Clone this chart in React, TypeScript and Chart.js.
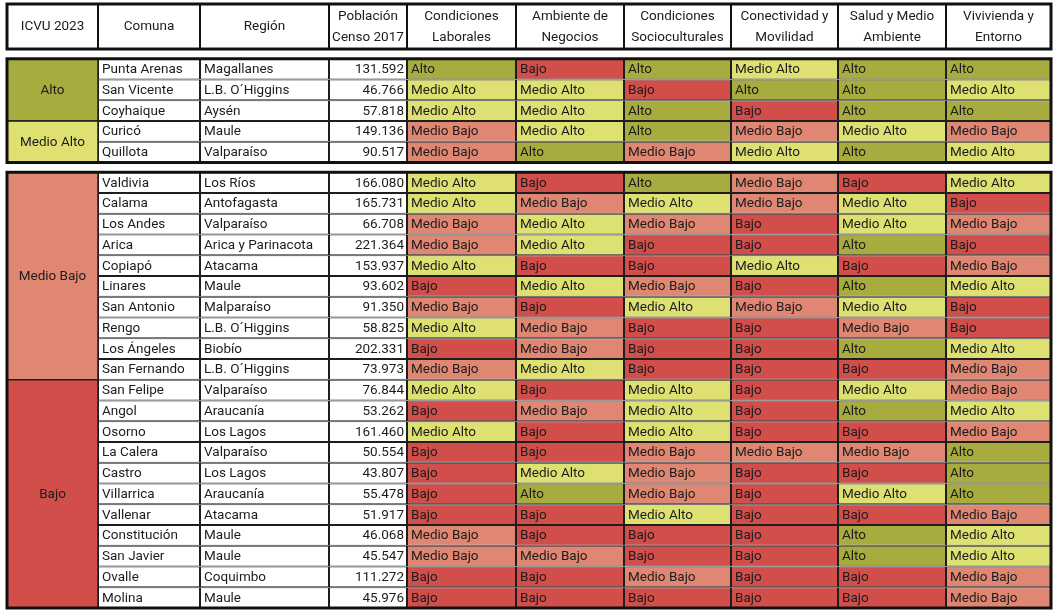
import React, { useEffect, useRef } from "react";
import { Chart, registerables } from "chart.js";

Chart.register(...registerables);

// ---------- data ----------
const headers: string[][] = [
  ["ICVU 2023"],
  ["Comuna"],
  ["Región"],
  ["Población", "Censo 2017"],
  ["Condiciones", "Laborales"],
  ["Ambiente de", "Negocios"],
  ["Condiciones", "Socioculturales"],
  ["Conectividad y", "Movilidad"],
  ["Salud y Medio", "Ambiente"],
  ["Vivivienda y", "Entorno"],
];

const icvuLevels = ["Alto", "Medio Alto", "Medio Bajo", "Bajo"];
const icvuCounts = [3, 2, 10, 11];
const blockBreaks = [5]; // a new framed block starts at this row

const comunas = [
  "Punta Arenas", "San Vicente", "Coyhaique", "Curicó", "Quillota",
  "Valdivia", "Calama", "Los Andes", "Arica", "Copiapó", "Linares", "San Antonio",
  "Rengo", "Los Ángeles", "San Fernando",
  "San Felipe", "Angol", "Osorno", "La Calera", "Castro", "Villarrica", "Vallenar",
  "Constitución", "San Javier", "Ovalle", "Molina",
];

const regiones = [
  "Magallanes", "L.B. O´Higgins", "Aysén", "Maule", "Valparaíso",
  "Los Ríos", "Antofagasta", "Valparaíso", "Arica y Parinacota", "Atacama", "Maule",
  "Malparaíso", "L.B. O´Higgins", "Biobío", "L.B. O´Higgins",
  "Valparaíso", "Araucanía", "Los Lagos", "Valparaíso", "Los Lagos", "Araucanía",
  "Atacama", "Maule", "Maule", "Coquimbo", "Maule",
];

const poblacion = [
  131592, 46766, 57818, 149136, 90517,
  166080, 165731, 66708, 221364, 153937, 93602, 91350, 58825, 202331, 73973,
  76844, 53262, 161460, 50554, 43807, 55478, 51917, 46068, 45547, 111272, 45976,
];

const condicionesLaborales = [
  "Alto", "Medio Alto", "Medio Alto", "Medio Bajo", "Medio Bajo",
  "Medio Alto", "Medio Alto", "Medio Bajo", "Medio Bajo", "Medio Alto", "Bajo",
  "Medio Bajo", "Medio Alto", "Bajo", "Medio Bajo",
  "Medio Alto", "Bajo", "Medio Alto", "Bajo", "Bajo", "Bajo", "Bajo",
  "Medio Bajo", "Medio Bajo", "Bajo", "Bajo",
];

const ambienteNegocios = [
  "Bajo", "Medio Alto", "Medio Alto", "Medio Alto", "Alto",
  "Bajo", "Medio Bajo", "Medio Alto", "Medio Alto", "Bajo", "Medio Alto",
  "Bajo", "Medio Bajo", "Medio Bajo", "Medio Alto",
  "Bajo", "Medio Bajo", "Bajo", "Bajo", "Medio Alto", "Alto", "Bajo",
  "Bajo", "Medio Bajo", "Bajo", "Bajo",
];

const condicionesSocioculturales = [
  "Alto", "Bajo", "Alto", "Alto", "Medio Bajo",
  "Alto", "Medio Alto", "Medio Bajo", "Bajo", "Bajo", "Medio Bajo",
  "Medio Alto", "Bajo", "Bajo", "Bajo",
  "Medio Alto", "Medio Alto", "Medio Alto", "Medio Bajo", "Medio Bajo", "Medio Bajo",
  "Medio Alto", "Bajo", "Bajo", "Medio Bajo", "Bajo",
];

const conectividadMovilidad = [
  "Medio Alto", "Alto", "Bajo", "Medio Bajo", "Medio Alto",
  "Medio Bajo", "Medio Bajo", "Bajo", "Bajo", "Medio Alto", "Bajo",
  "Medio Bajo", "Bajo", "Bajo", "Bajo",
  "Bajo", "Bajo", "Bajo", "Medio Bajo", "Bajo", "Bajo", "Bajo",
  "Bajo", "Bajo", "Bajo", "Bajo",
];

const saludMedioAmbiente = [
  "Alto", "Alto", "Alto", "Medio Alto", "Alto",
  "Bajo", "Medio Alto", "Medio Alto", "Alto", "Bajo", "Alto",
  "Medio Alto", "Medio Bajo", "Alto", "Bajo",
  "Medio Alto", "Alto", "Bajo", "Medio Bajo", "Bajo", "Medio Alto", "Bajo",
  "Alto", "Alto", "Bajo", "Bajo",
];

const viviendaEntorno = [
  "Alto", "Medio Alto", "Alto", "Medio Bajo", "Medio Alto",
  "Medio Alto", "Bajo", "Medio Bajo", "Bajo", "Medio Bajo", "Medio Alto",
  "Bajo", "Bajo", "Medio Alto", "Medio Bajo",
  "Medio Bajo", "Medio Alto", "Medio Bajo", "Alto", "Alto", "Alto", "Medio Bajo",
  "Medio Alto", "Medio Alto", "Medio Bajo", "Medio Bajo",
];

// ---------- styling / layout ----------
const LEVEL_COLORS: Record<string, string> = {
  Alto: "#a8ac3e",
  "Medio Alto": "#dfe072",
  "Medio Bajo": "#e08773",
  Bajo: "#d24e4b",
};
const COL_WIDTHS = [91, 102, 129, 78, 109, 108, 107, 107, 108, 105];
const HEADER_UNITS = 2.17;
const GAP_UNITS = 0.47;
const FONT = "Roboto, 'Noto Sans', sans-serif";
const TEXT_COLOR = "#1c1c1c";
const LINE_COLOR = "#1e1e1e";

const colEdges: number[] = [0];
COL_WIDTHS.forEach((w) => colEdges.push(colEdges[colEdges.length - 1] + w));
const TOTAL_W = colEdges[colEdges.length - 1];
const N_ROWS = comunas.length;
const TOTAL_H = HEADER_UNITS + GAP_UNITS * (1 + blockBreaks.length) + N_ROWS;

function rowTop(i: number): number {
  const breaks = blockBreaks.filter((b) => i >= b).length;
  return HEADER_UNITS + GAP_UNITS * (1 + breaks) + i;
}

function fmt(n: number): string {
  return String(n).replace(/\B(?=(\d{3})+(?!\d))/g, ".");
}

type Col = { values: string[]; colored: boolean; align: "left" | "right" };
const columns: Col[] = [
  { values: comunas, colored: false, align: "left" },
  { values: regiones, colored: false, align: "left" },
  { values: poblacion.map(fmt), colored: false, align: "right" },
  { values: condicionesLaborales, colored: true, align: "left" },
  { values: ambienteNegocios, colored: true, align: "left" },
  { values: condicionesSocioculturales, colored: true, align: "left" },
  { values: conectividadMovilidad, colored: true, align: "left" },
  { values: saludMedioAmbiente, colored: true, align: "left" },
  { values: viviendaEntorno, colored: true, align: "left" },
];

const tablePlugin = {
  id: "tableText",
  afterDatasetsDraw(chart: any) {
    const ctx: CanvasRenderingContext2D = chart.ctx;
    const xs = chart.scales.x;
    const ys = chart.scales.y;
    const px = (v: number) => xs.getPixelForValue(v);
    const py = (v: number) => ys.getPixelForValue(v);
    ctx.save();

    // cell texts
    ctx.font = `13.5px ${FONT}`;
    ctx.fillStyle = TEXT_COLOR;
    ctx.textBaseline = "middle";
    chart.data.datasets.forEach((ds: any, di: number) => {
      const meta = chart.getDatasetMeta(di);
      const col = columns[di];
      meta.data.forEach((el: any, i: number) => {
        const { x, base, y } = el.getProps(["x", "base", "y"], true);
        const left = Math.min(x, base);
        const right = Math.max(x, base);
        if (col.align === "right") {
          ctx.textAlign = "right";
          ctx.fillText(col.values[i], right - 3, y + 0.5);
        } else {
          ctx.textAlign = "left";
          ctx.fillText(col.values[i], left + 4, y + 0.5);
        }
      });
    });

    // ICVU spans
    let start = 0;
    icvuLevels.forEach((lvl, k) => {
      const cnt = icvuCounts[k];
      const y0 = py(rowTop(start));
      const y1 = py(rowTop(start) + cnt);
      const x0 = px(colEdges[0]);
      const x1 = px(colEdges[1]);
      ctx.fillStyle = LEVEL_COLORS[lvl];
      ctx.fillRect(x0, y0, x1 - x0, y1 - y0);
      ctx.strokeStyle = LINE_COLOR;
      ctx.lineWidth = 1.5;
      ctx.strokeRect(x0, y0, x1 - x0, y1 - y0);
      ctx.fillStyle = TEXT_COLOR;
      ctx.textAlign = "center";
      ctx.font = `13.5px ${FONT}`;
      ctx.fillText(lvl, (x0 + x1) / 2, (y0 + y1) / 2 + 0.5);
      start += cnt;
    });

    // header
    const hy0 = py(0);
    const hy1 = py(HEADER_UNITS);
    ctx.fillStyle = "#ffffff";
    ctx.fillRect(px(0), hy0, px(TOTAL_W) - px(0), hy1 - hy0);
    ctx.font = `13.5px ${FONT}`;
    ctx.fillStyle = TEXT_COLOR;
    ctx.textAlign = "center";
    headers.forEach((lines, c) => {
      const cx = (px(colEdges[c]) + px(colEdges[c + 1])) / 2;
      const cy = (hy0 + hy1) / 2;
      if (lines.length === 1) {
        ctx.fillText(lines[0], cx, cy + 0.5);
      } else {
        ctx.fillText(lines[0], cx, cy - 10);
        ctx.fillText(lines[1], cx, cy + 11);
      }
    });
    ctx.strokeStyle = "#111";
    ctx.lineWidth = 2;
    for (let c = 1; c < colEdges.length - 1; c++) {
      const x = px(colEdges[c]);
      ctx.beginPath();
      ctx.moveTo(x, hy0);
      ctx.lineTo(x, hy1);
      ctx.stroke();
    }
    ctx.lineWidth = 3;
    ctx.strokeRect(px(0), hy0, px(TOTAL_W) - px(0), hy1 - hy0);

    // block frames
    const blocks = [0, ...blockBreaks, N_ROWS];
    for (let b = 0; b < blocks.length - 1; b++) {
      const y0 = py(rowTop(blocks[b]));
      const y1 = py(rowTop(blocks[b + 1] - 1) + 1);
      ctx.strokeRect(px(0), y0, px(TOTAL_W) - px(0), y1 - y0);
    }
    ctx.restore();
  },
};

export default function App() {
  const canvasRef = useRef<HTMLCanvasElement | null>(null);

  useEffect(() => {
    const canvas = canvasRef.current;
    if (!canvas) return;
    const datasets = columns.map((col, c) => ({
      label: headers[c + 1].join(" "),
      data: col.values.map((_, i) => ({
        x: [colEdges[c + 1], colEdges[c + 2]],
        y: rowTop(i) + 0.5,
      })),
      backgroundColor: col.values.map((v) =>
        col.colored ? LEVEL_COLORS[v] : "#ffffff"
      ),
      borderColor: LINE_COLOR,
      borderWidth: 1,
      borderSkipped: false,
      inflateAmount: 0,
      grouped: false,
      barPercentage: 1,
      categoryPercentage: 1,
    }));

    const chart = new Chart(canvas, {
      type: "bar",
      data: { datasets: datasets as any },
      options: {
        animation: false,
        responsive: false,
        maintainAspectRatio: false,
        devicePixelRatio: 1,
        indexAxis: "y",
        events: [],
        layout: { padding: { left: 7, right: 6, top: 4, bottom: 5 } },
        plugins: {
          legend: { display: false },
          tooltip: { enabled: false },
        },
        scales: {
          x: {
            type: "linear",
            min: 0,
            max: TOTAL_W,
            display: false,
            offset: false,
            bounds: "data",
          },
          y: {
            type: "linear",
            min: 0,
            max: TOTAL_H,
            reverse: true,
            display: false,
            offset: false,
            bounds: "data",
            grid: { offset: false },
            ticks: { stepSize: 5 },
          },
        },
      },
      plugins: [tablePlugin],
    });
    return () => chart.destroy();
  }, []);

  return (
    <div
      style={{
        position: "fixed",
        left: 0,
        top: 0,
        width: 1057,
        height: 613,
        background: "#ffffff",
      }}
    >
      <canvas
        ref={canvasRef}
        width={1057}
        height={613}
        style={{ display: "block", width: 1057, height: 613 }}
      />
    </div>
  );
}
